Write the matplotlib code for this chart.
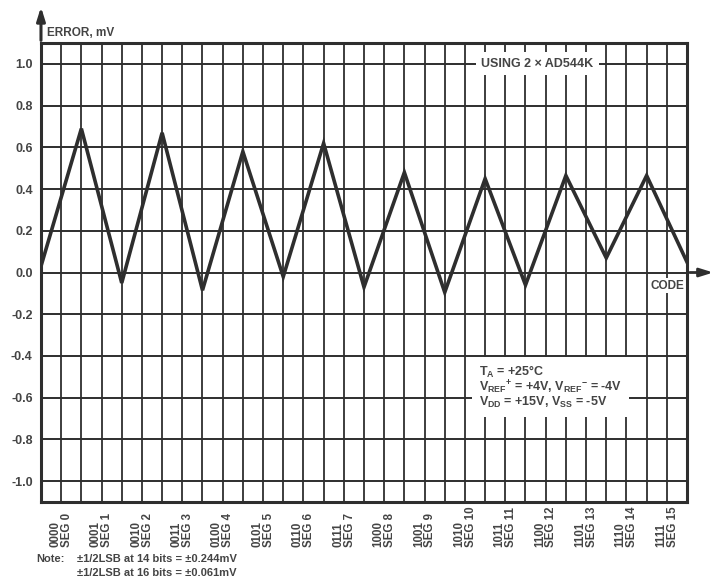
import numpy as np
from matplotlib import pyplot as plt
from matplotlib import transforms

plt.rcParams['font.family'] = ['Liberation Sans', 'DejaVu Sans']

# error at each segment boundary (0..16) and mid-segment
codes = ["0000", "0001", "0010", "0011", "0100", "0101", "0110", "0111",
         "1000", "1001", "1010", "1011", "1100", "1101", "1110", "1111"]
segs = ["SEG 0", "SEG 1", "SEG 2", "SEG 3", "SEG 4", "SEG 5", "SEG 6", "SEG 7",
        "SEG 8", "SEG 9", "SEG 10", "SEG 11", "SEG 12", "SEG 13", "SEG 14", "SEG 15"]
x_pts = [0, 1, 2, 3, 4, 5, 6, 7, 8, 9, 10, 11, 12, 13, 14, 15, 16]
err = [0.03, 0.69, -0.05, 0.67, -0.085, 0.58, -0.02, 0.62, -0.07,
       0.48, -0.095, 0.45, -0.06, 0.465, 0.07, 0.465, 0.05]
yticks = [-1.0, -0.8, -0.6, -0.4, -0.2, 0.0, 0.2, 0.4, 0.6, 0.8, 1.0]

ink = "#2e2e2e"
txt = "#444444"
fs = 9

fig = plt.figure(figsize=(7.19, 5.87), dpi=100)
ax = fig.add_axes([0.057, 0.145, 0.8985, 0.7815])

# x in half-segment steps, so peaks fall in segment middle
xs = np.array(x_pts) * 2
ax.set_xlim(0, 32)
ax.set_ylim(-1.1, 1.1)

for gx in range(1, 32):
    ax.axvline(gx, color=ink, lw=1.3, zorder=1)
for gy in yticks:
    ax.axhline(gy, color=ink, lw=1.4, zorder=1)

ax.plot(xs, err, color=ink, lw=2.6, solid_joinstyle="miter", zorder=3)

for s in ax.spines.values():
    s.set_linewidth(2.2)
    s.set_color(ink)

ax.set_yticks(yticks)
ax.set_yticklabels(["%.1f" % v for v in yticks], fontsize=fs,
                   fontweight="bold", color=txt)
ax.tick_params(axis="y", length=0, pad=6)
ax.set_xticks([])

# rotated segment labels, bottom aligned
trans = transforms.blended_transform_factory(ax.transData, ax.transAxes)
for i in range(len(codes)):
    ax.text(2 * i + 1, -0.099, codes[i] + "\n" + segs[i], transform=trans,
            rotation=90, ha="center", va="bottom", fontsize=8.3,
            fontweight="bold", color=txt, multialignment="left",
            linespacing=0.95)

# axis arrows
ax.annotate("", xy=(0, 1.085), xytext=(0, 1.0), xycoords="axes fraction",
            arrowprops=dict(arrowstyle="-|>,head_length=0.8,head_width=0.25",
                            color=ink, lw=2.2), annotation_clip=False)
ax.annotate("", xy=(1.045, 0.5), xytext=(1.0, 0.5), xycoords="axes fraction",
            arrowprops=dict(arrowstyle="-|>,head_length=0.8,head_width=0.25",
                            color=ink, lw=2.0), annotation_clip=False)

ax.text(0.009, 1.01, "ERROR, mV", transform=ax.transAxes, fontsize=8.5,
        fontweight="bold", color=txt, va="bottom")
ax.text(31.85, -0.035, "CODE", fontsize=8.5, fontweight="bold", color=txt,
        ha="right", va="top", zorder=4,
        bbox=dict(facecolor="white", edgecolor="none", pad=1))

ax.text(21.8, 1.0, "USING 2 \u00d7 AD544K", fontsize=fs, fontweight="bold",
        color=txt, va="center", zorder=4,
        bbox=dict(facecolor="white", edgecolor="none", pad=4))

cond = ("T$_\\mathregular{A}$ = +25\u00b0C\n"
        "V$_\\mathregular{REF}$$^\\mathregular{+}$ = +4V, "
        "V$_\\mathregular{REF}$$^\\mathregular{-}$ = -4V\n"
        "V$_\\mathregular{DD}$ = +15V, V$_\\mathregular{SS}$ = -5V")
ax.text(21.7, -0.44, cond, fontsize=fs, fontweight="bold", color=txt,
        va="top", ha="left", zorder=4, linespacing=0.9,
        bbox=dict(facecolor="white", edgecolor="none", pad=5))

fig.text(0.051, 0.043, "Note:", fontsize=8, fontweight="bold", color=txt)
fig.text(0.107, 0.043, "\u00b11/2LSB at 14 bits = \u00b10.244mV", fontsize=8,
         fontweight="bold", color=txt)
fig.text(0.107, 0.019, "\u00b11/2LSB at 16 bits = \u00b10.061mV", fontsize=8,
         fontweight="bold", color=txt)

plt.savefig("out.png", dpi=100)
